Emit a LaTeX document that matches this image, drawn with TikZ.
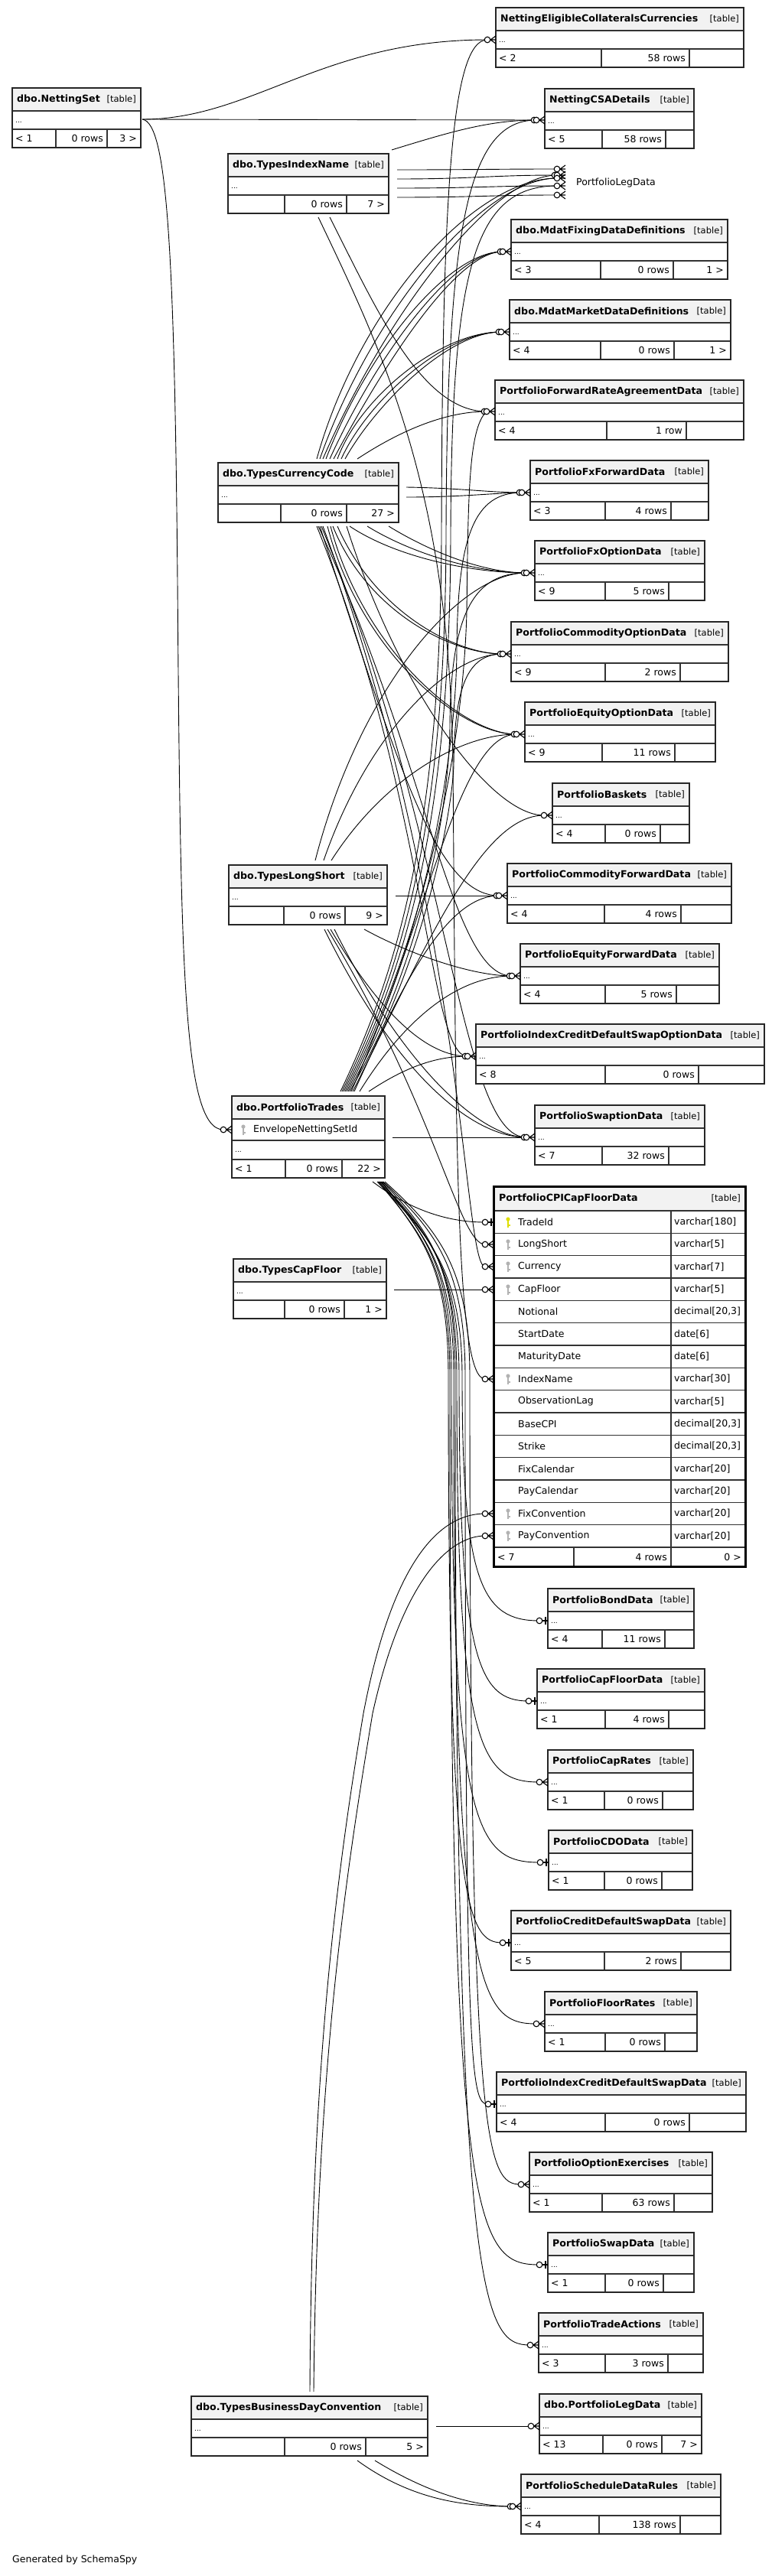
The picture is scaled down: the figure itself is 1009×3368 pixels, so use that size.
\documentclass[tikz,border=0pt]{standalone}
\usepackage{fontspec}
\setmainfont{DejaVu Sans}
\usetikzlibrary{calc}
\definecolor{keygray}{RGB}{178,178,178}
\definecolor{keyyel}{RGB}{222,222,0}
\tikzset{
  rel/.style={draw=black, line width=0.9pt},
  tbord/.style={draw=black!85, line width=1.6pt},
  tline/.style={draw=black!80, line width=1.3pt},
  hdr/.style={fill=black!5},
  ttl/.style={anchor=west, inner sep=0pt, font=\fontsize{12.6}{15}\selectfont\bfseries},
  tag/.style={anchor=east, inner sep=0pt, font=\fontsize{11.5}{15}\selectfont},
  cell/.style={inner sep=0pt, font=\fontsize{12.5}{15}\selectfont},
  dotx/.style={anchor=west, inner sep=0pt, font=\fontsize{9}{10}\selectfont},
  mk/.style={draw=black, line width=1.1pt},
  tblnode/.style={draw=none, fill=white, inner sep=0pt, outer sep=0pt, anchor=north west, minimum height=78pt},
}
\newcommand\tbl[9]{%
  \pgfmathsetmacro\tw{#4-#2}%
  \node[tblnode, minimum width=\tw pt] (#1) at (#2,#3) {};
  \fill[hdr] (#2,#3) rectangle (#4,#3+30);
  \draw[tline] (#2,#3+30) -- (#4,#3+30) (#2,#3+54) -- (#4,#3+54)
     (#5,#3+54) -- (#5,#3+78) (#6,#3+54) -- (#6,#3+78);
  \draw[tbord] (#2,#3) rectangle (#4,#3+78);
  \node[ttl] at (#2+6,#3+15) {#7};
  \node[tag] at (#4-6,#3+15) {[table]};
  \node[dotx] at (#2+4,#3+45) {...};
  \node[cell, anchor=west] at (#2+4,#3+66) {#8};
  \node[cell, anchor=east] at (#6-5,#3+66) {#9};
}
\newcommand\rtx[3]{\node[cell, anchor=east] at (#1-5,#2+66) {#3};}
\newcommand\crowm[2]{%
  \draw[mk] (#1-7,#2) -- (#1,#2-5) (#1-7,#2) -- (#1,#2) (#1-7,#2) -- (#1,#2+5);
  \draw[mk, fill=white] (#1-11,#2) circle (3.8pt);
}
\newcommand\crowmm[2]{%
  \draw[mk, fill=white] (#1-14,#2) circle (3.8pt);
  \crowm{#1}{#2}%
}
\newcommand\onem[2]{%
  \draw[mk] (#1-7,#2) -- (#1,#2) (#1-3,#2-5) -- (#1-3,#2+5);
  \draw[mk, fill=white] (#1-11,#2) circle (3.8pt);
}
\newcommand\keyic[3]{%
  \draw[#3, line width=1.6pt] (#1,#2-2) -- (#1,#2+7);
  \fill[#3] (#1,#2-4) circle (2.6pt);
  \draw[#3, line width=1.2pt] (#1,#2+4) -- (#1+2.5,#2+4);
}
\begin{document}
\begin{tikzpicture}[x=1pt, y=-1pt]
\useasboundingbox (0,0) rectangle (1009,3368);
\fill[white] (0,0) rectangle (1009,3368);

% ---------- connector end points ----------
\coordinate (nsS) at (186,156);
\coordinate (necE) at (637,52);
\coordinate (csaE) at (701,157);
\coordinate (pld1) at (728,221);
\coordinate (pld2) at (728,229);
\coordinate (pld3) at (728,233);
\coordinate (pld4) at (728,243);
\coordinate (pld5) at (728,255);
\coordinate (mfE) at (657,329);
\coordinate (mmE) at (655,434);
\coordinate (pfraE) at (636,538);
\coordinate (fxfE) at (682,644);
\coordinate (fxoE) at (688,749);
\coordinate (coE) at (657,855);
\coordinate (eoE) at (675,960);
\coordinate (bkE) at (711,1066);
\coordinate (cfE) at (652,1171);
\coordinate (efE) at (669,1276);
\coordinate (icoE) at (611,1381);
\coordinate (swE) at (688,1487);
\coordinate (tidE) at (634,1598);
\coordinate (lsE) at (634,1627);
\coordinate (curE) at (634,1656);
\coordinate (cflE) at (634,1686);
\coordinate (inE) at (634,1803);
\coordinate (fcE) at (634,1979);
\coordinate (pcE) at (634,2008);
\coordinate (bondE) at (705,2119);
\coordinate (capfE) at (691,2224);
\coordinate (caprE) at (705,2330);
\coordinate (cdoE) at (706,2435);
\coordinate (cdsE) at (657,2540);
\coordinate (floorE) at (701,2646);
\coordinate (icdsE) at (638,2751);
\coordinate (oeE) at (681,2856);
\coordinate (swapE) at (705,2961);
\coordinate (taE) at (693,3066);
\coordinate (dpldE) at (694,3172);
\coordinate (sdrE) at (670,3277);
\coordinate (ptE) at (292,1477);
\coordinate (tinC) at (512,196);
\coordinate (tinR1) at (519,222);
\coordinate (tinR2) at (519,234);
\coordinate (tinR3) at (519,246);
\coordinate (tinR4) at (519,258);
\coordinate (tinB1) at (416,284);
\coordinate (tinB2) at (431,284);
\coordinate (tccT) at (414,600);
\coordinate (tccR1) at (531,637);
\coordinate (tccR2) at (531,650);
\coordinate (tccB) at (414,688);
\coordinate (tlsT) at (412,1125);
\coordinate (tlsR) at (517,1171);
\coordinate (tlsB) at (424,1215);
\coordinate (ptT) at (440,1427);
\coordinate (ptR) at (513,1487);
\coordinate (ptB) at (487,1545);
\coordinate (tcfR) at (515,1686);
\coordinate (bdT1) at (405,3127);
\coordinate (bdT2) at (410,3127);
\coordinate (bdR) at (570,3172);
\coordinate (bdB1) at (467,3217);
\coordinate (bdB2) at (490,3217);

% ---------- connectors ----------
% NettingSet
\draw[rel] (nsS) .. controls (330,156) and (420,52) .. (necE);
\draw[rel] (nsS) -- (csaE);
\draw[rel] (nsS) .. controls (218,160) and (228,320) .. (232,760) .. controls (236,1250) and (238,1477) .. (ptE);
% TypesIndexName
\draw[rel] (tinR1) .. controls (620,222) and (640,221) .. (pld1);
\draw[rel] (tinR2) .. controls (620,234) and (640,229) .. (pld2);
\draw[rel] (tinR3) .. controls (620,246) and (640,243) .. (pld4);
\draw[rel] (tinR4) .. controls (620,258) and (640,255) .. (pld5);
\draw[rel] (tinC) .. controls (590,172) and (640,157) .. (csaE);
\draw[rel] (tinB2) .. controls (490,400) and (550,538) .. (pfraE);
\draw[rel] (tinB1) .. controls (500,460) and (588,640) .. (592,1000) .. controls (596,1500) and (596,1803) .. (inE);
% TypesCurrencyCode top
\draw[rel] (tccT) .. controls (470,400) and (620,233) .. (pld3);
\draw[rel] ([xshift=4pt]tccT) .. controls (485,410) and (630,233) .. (pld3);
\draw[rel] ([xshift=8pt]tccT) .. controls (500,420) and (640,229) .. (pld2);
\draw[rel] ([xshift=12pt]tccT) .. controls (480,460) and (585,329) .. (mfE);
\draw[rel] ([xshift=17pt]tccT) .. controls (490,470) and (590,329) .. (mfE);
\draw[rel] ([xshift=22pt]tccT) .. controls (500,480) and (595,329) .. (mfE);
\draw[rel] ([xshift=27pt]tccT) .. controls (470,520) and (575,434) .. (mmE);
\draw[rel] ([xshift=32pt]tccT) .. controls (480,525) and (580,434) .. (mmE);
\draw[rel] ([xshift=37pt]tccT) .. controls (490,530) and (585,434) .. (mmE);
\draw[rel] ([xshift=53pt]tccT) .. controls (520,565) and (580,538) .. (pfraE);
% TypesCurrencyCode right
\draw[rel] (tccR1) .. controls (600,638) and (640,644) .. (fxfE);
\draw[rel] (tccR2) .. controls (600,650) and (640,645) .. (fxfE);
% TypesCurrencyCode bottom
\draw[rel] ([xshift=43pt]tccB) .. controls (520,730) and (620,749) .. (fxoE);
\draw[rel] ([xshift=66pt]tccB) .. controls (540,725) and (625,749) .. (fxoE);
\draw[rel] ([xshift=94pt]tccB) .. controls (560,720) and (630,749) .. (fxoE);
\draw[rel] ([xshift=21pt]tccB) .. controls (480,800) and (590,855) .. (coE);
\draw[rel] ([xshift=27pt]tccB) .. controls (490,800) and (595,855) .. (coE);
\draw[rel] ([xshift=14pt]tccB) .. controls (470,850) and (600,960) .. (eoE);
\draw[rel] ([xshift=18pt]tccB) .. controls (475,850) and (605,960) .. (eoE);
\draw[rel] ([xshift=39pt]tccB) .. controls (520,900) and (640,1066) .. (bkE);
\draw[rel] ([xshift=4pt]tccB) .. controls (520,1000) and (570,1171) .. (cfE);
\draw[rel] ([xshift=2pt]tccB) .. controls (560,1000) and (590,1276) .. (efE);
\draw[rel] (tccB) .. controls (560,1050) and (560,1381) .. (icoE);
\draw[rel] ([xshift=6pt]tccB) .. controls (590,1100) and (600,1487) .. (swE);
\draw[rel] ([xshift=8pt]tccB) .. controls (610,1200) and (605,1656) .. (curE);
% PortfolioTrades top
\draw[rel] ([xshift=5pt]ptT) .. controls (530,1250) and (576,1050) .. (577,700) .. controls (578,250) and (590,52) .. (necE);
\draw[rel] ([xshift=7pt]ptT) .. controls (535,1250) and (582,1050) .. (583,700) .. controls (584,300) and (610,157) .. (csaE);
\draw[rel] ([xshift=9pt]ptT) .. controls (540,1250) and (588,1050) .. (589,700) .. controls (590,350) and (620,243) .. (pld4);
\draw[rel] ([xshift=11pt]ptT) .. controls (545,1250) and (605,1000) .. (610,800) .. controls (612,650) and (612,560) .. (pfraE);
\draw[rel] ([xshift=13pt]ptT) .. controls (550,1250) and (596,1000) .. (597,850) .. controls (598,700) and (620,644) .. (fxfE);
\draw[rel] ([xshift=15pt]ptT) .. controls (555,1250) and (587,1050) .. (588,950) .. controls (589,800) and (620,749) .. (fxoE);
\draw[rel] ([xshift=17pt]ptT) .. controls (560,1250) and (592,1050) .. (593,1000) .. controls (594,900) and (610,855) .. (coE);
\draw[rel] ([xshift=19pt]ptT) .. controls (560,1200) and (600,960) .. (eoE);
\draw[rel] ([xshift=21pt]ptT) .. controls (560,1230) and (630,1066) .. (bkE);
\draw[rel] ([xshift=23pt]ptT) .. controls (520,1300) and (580,1171) .. (cfE);
\draw[rel] ([xshift=30pt]ptT) .. controls (530,1330) and (600,1276) .. (efE);
\draw[rel] ([xshift=42pt]ptT) .. controls (530,1395) and (570,1381) .. (icoE);
% PortfolioTrades right / bottom
\draw[rel] (ptR) -- (swE);
\draw[rel] (ptB) .. controls (540,1585) and (590,1598) .. (tidE);
\draw[rel] ([xshift=6pt]ptB) .. controls (560,1615) and (604,1660) .. (604,1800) .. controls (604,2070) and (630,2119) .. (bondE);
\draw[rel] ([xshift=8pt]ptB) .. controls (562,1615) and (600,1660) .. (600,1800) .. controls (600,2170) and (625,2224) .. (capfE);
\draw[rel] ([xshift=10pt]ptB) .. controls (564,1615) and (597,1660) .. (597,1800) .. controls (597,2280) and (625,2330) .. (caprE);
\draw[rel] ([xshift=12pt]ptB) .. controls (560,1620) and (590,1660) .. (590,1800) .. controls (590,2390) and (620,2435) .. (cdoE);
\draw[rel] ([xshift=9pt]ptB) .. controls (555,1620) and (586,1660) .. (586,1800) .. controls (586,2490) and (610,2540) .. (cdsE);
\draw[rel] ([xshift=11pt]ptB) .. controls (560,1620) and (593,1660) .. (593,1800) .. controls (593,2600) and (625,2646) .. (floorE);
\draw[rel] ([xshift=14pt]ptB) .. controls (570,1610) and (608,1660) .. (608,1800) .. controls (608,2710) and (615,2751) .. (icdsE);
\draw[rel] ([xshift=16pt]ptB) .. controls (575,1610) and (614,1660) .. (614,1800) .. controls (614,2810) and (635,2856) .. (oeE);
\draw[rel] ([xshift=7pt]ptB) .. controls (556,1618) and (588,1660) .. (588,1800) .. controls (588,2910) and (620,2961) .. (swapE);
\draw[rel] ([xshift=13pt]ptB) .. controls (566,1614) and (595,1660) .. (595,1800) .. controls (595,3010) and (630,3066) .. (taE);
% TypesLongShort
\draw[rel] (tlsT) .. controls (470,900) and (600,749) .. (fxoE);
\draw[rel] ([xshift=11pt]tlsT) .. controls (480,960) and (585,855) .. (coE);
\draw[rel] ([xshift=21pt]tlsT) .. controls (500,1020) and (600,960) .. (eoE);
\draw[rel] (tlsR) -- (cfE);
\draw[rel] ([xshift=52pt]tlsB) .. controls (540,1250) and (620,1276) .. (efE);
\draw[rel] ([xshift=8pt]tlsB) .. controls (500,1330) and (560,1381) .. (icoE);
\draw[rel] (tlsB) .. controls (520,1410) and (620,1487) .. (swE);
\draw[rel] ([xshift=13pt]tlsB) .. controls (530,1400) and (630,1487) .. (swE);
\draw[rel] ([xshift=4pt]tlsB) .. controls (570,1450) and (600,1627) .. (lsE);
% TypesCapFloor
\draw[rel] (tcfR) -- (cflE);
% TypesBusinessDayConvention
\draw[rel] (bdT1) .. controls (407,2700) and (440,2450) .. (475,2240) .. controls (515,2030) and (580,1979) .. (fcE);
\draw[rel] (bdT2) .. controls (414,2700) and (452,2450) .. (487,2240) .. controls (527,2060) and (590,2008) .. (pcE);
\draw[rel] (bdR) -- (dpldE);
\draw[rel] (bdB1) .. controls (540,3270) and (610,3277) .. (sdrE);
\draw[rel] (bdB2) .. controls (560,3260) and (620,3277) .. (sdrE);

% ---------- tables ----------
\tbl{nec}{648}{10}{972}{786}{901}{NettingEligibleCollateralsCurrencies}{< 2}{58 rows}
\tbl{ns}{16}{115}{184}{73}{140}{dbo.NettingSet}{< 1}{0 rows}\rtx{184}{115}{3 >}
\tbl{csa}{712}{116}{907}{787}{870}{NettingCSADetails}{< 5}{58 rows}
\tbl{tin}{298}{201}{508}{372}{453}{dbo.TypesIndexName}{}{0 rows}\rtx{508}{201}{7 >}
\node[cell, anchor=west] (pld) at (753,239) {PortfolioLegData};
\tbl{mf}{668}{287}{951}{785}{880}{dbo.MdatFixingDataDefinitions}{< 3}{0 rows}\rtx{951}{287}{1 >}
\tbl{mm}{666}{392}{955}{785}{881}{dbo.MdatMarketDataDefinitions}{< 4}{0 rows}\rtx{955}{392}{1 >}
\tbl{pfra}{647}{497}{972}{793}{897}{PortfolioForwardRateAgreementData}{< 4}{1 row}
\tbl{tcc}{285}{605}{521}{367}{453}{dbo.TypesCurrencyCode}{}{0 rows}\rtx{521}{605}{27 >}
\tbl{fxf}{693}{602}{926}{791}{877}{PortfolioFxForwardData}{< 3}{4 rows}
\tbl{fxo}{699}{707}{921}{791}{874}{PortfolioFxOptionData}{< 9}{5 rows}
\tbl{co}{668}{813}{952}{791}{889}{PortfolioCommodityOptionData}{< 9}{2 rows}
\tbl{eo}{686}{918}{935}{787}{882}{PortfolioEquityOptionData}{< 9}{11 rows}
\tbl{bk}{722}{1024}{901}{791}{863}{PortfolioBaskets}{< 4}{0 rows}
\tbl{tls}{299}{1131}{506}{371}{451}{dbo.TypesLongShort}{}{0 rows}\rtx{506}{1131}{9 >}
\tbl{cf}{663}{1129}{956}{790}{890}{PortfolioCommodityForwardData}{< 4}{4 rows}
\tbl{ef}{680}{1234}{940}{791}{884}{PortfolioEquityForwardData}{< 4}{5 rows}
\tbl{ico}{622}{1339}{999}{791}{913}{PortfolioIndexCreditDefaultSwapOptionData}{< 8}{0 rows}
\tbl{sw}{699}{1445}{921}{787}{874}{PortfolioSwaptionData}{< 7}{32 rows}
\tbl{tcf}{305}{1646}{505}{372}{450}{dbo.TypesCapFloor}{}{0 rows}\rtx{505}{1646}{1 >}
\tbl{bond}{716}{2077}{907}{787}{869}{PortfolioBondData}{< 4}{11 rows}
\tbl{capf}{702}{2182}{921}{791}{874}{PortfolioCapFloorData}{< 1}{4 rows}
\tbl{capr}{716}{2288}{906}{790}{866}{PortfolioCapRates}{< 1}{0 rows}
\tbl{cdo}{717}{2393}{905}{790}{865}{PortfolioCDOData}{< 1}{0 rows}
\tbl{cds}{668}{2498}{955}{790}{890}{PortfolioCreditDefaultSwapData}{< 5}{2 rows}
\tbl{floor}{712}{2604}{911}{791}{869}{PortfolioFloorRates}{< 1}{0 rows}
\tbl{icds}{649}{2709}{975}{791}{901}{PortfolioIndexCreditDefaultSwapData}{< 4}{0 rows}
\tbl{oe}{692}{2814}{931}{787}{881}{PortfolioOptionExercises}{< 1}{63 rows}
\tbl{swap}{716}{2919}{907}{791}{867}{PortfolioSwapData}{< 1}{0 rows}
\tbl{ta}{704}{3024}{919}{791}{873}{PortfolioTradeActions}{< 3}{3 rows}
\tbl{tbdc}{250}{3133}{559}{372}{478}{dbo.TypesBusinessDayConvention}{}{0 rows}\rtx{559}{3133}{5 >}
\tbl{dpld}{705}{3130}{917}{788}{865}{dbo.PortfolioLegData}{< 13}{0 rows}\rtx{917}{3130}{7 >}
\tbl{sdr}{681}{3235}{942}{783}{889}{PortfolioScheduleDataRules}{< 4}{138 rows}

% dbo.PortfolioTrades
\node[tblnode, minimum width=200pt, minimum height=107pt] (pt) at (303,1433) {};
\fill[hdr] (303,1433) rectangle (503,1463);
\draw[tline] (303,1463) -- (503,1463) (303,1491) -- (503,1491) (303,1516) -- (503,1516)
  (373,1516) -- (373,1540) (447,1516) -- (447,1540);
\draw[tbord] (303,1433) rectangle (503,1540);
\node[ttl] at (309,1448) {dbo.PortfolioTrades};
\node[tag] at (497,1448) {[table]};
\keyic{318}{1477}{keygray}
\node[cell, anchor=west] at (331,1477) {EnvelopeNettingSetId};
\node[dotx] at (307,1506) {...};
\node[cell, anchor=west] at (307,1528) {< 1};
\node[cell, anchor=east] at (442,1528) {0 rows};
\node[cell, anchor=east] at (498,1528) {22 >};

% PortfolioCPICapFloorData
\node[tblnode, minimum width=329pt, minimum height=497pt] (cpi) at (645,1551) {};
\fill[hdr] (645,1551) rectangle (974,1583);
\foreach \i in {0,...,14} { \draw[tline] (645,1583+29.333*\i) -- (974,1583+29.333*\i); }
\draw[tline] (645,2023) -- (974,2023);
\draw[tline] (877,1583) -- (877,2023) (750,2023) -- (750,2048) (877,2023) -- (877,2048);
\draw[line width=3pt, draw=black] (645,1551) rectangle (974,2048);
\node[ttl] at (652,1567) {PortfolioCPICapFloorData};
\node[tag] at (968,1567) {[table]};
\foreach \nm/\ty [count=\i from 0] in {TradeId/{varchar[180]}, LongShort/{varchar[5]}, Currency/{varchar[7]}, CapFloor/{varchar[5]}, Notional/{decimal[20,3]}, StartDate/{date[6]}, MaturityDate/{date[6]}, IndexName/{varchar[30]}, ObservationLag/{varchar[5]}, BaseCPI/{decimal[20,3]}, Strike/{decimal[20,3]}, FixCalendar/{varchar[20]}, PayCalendar/{varchar[20]}, FixConvention/{varchar[20]}, PayConvention/{varchar[20]}} {
  \node[cell, anchor=west] at (677,1597.67+29.333*\i) {\nm};
  \node[cell, anchor=west] at (881,1597.67+29.333*\i) {\ty};
}
\keyic{664}{1598}{keyyel}
\keyic{664}{1627}{keygray}
\keyic{664}{1656}{keygray}
\keyic{664}{1686}{keygray}
\keyic{664}{1803}{keygray}
\keyic{664}{1979}{keygray}
\keyic{664}{2008}{keygray}
\node[cell, anchor=west] at (650,2036) {< 7};
\node[cell, anchor=east] at (872,2036) {4 rows};
\node[cell, anchor=east] at (969,2036) {0 >};

\node[cell, anchor=west] (gen) at (16,3347) {Generated by SchemaSpy};

% ---------- markers ----------
\crowm{648}{52}
\crowmm{712}{157}
\crowm{739}{221}
\crowmm{739}{229}
\crowm{739}{233}
\crowm{739}{243}
\crowm{739}{255}
\crowmm{668}{329}
\crowmm{666}{434}
\crowmm{647}{538}
\crowmm{693}{644}
\crowmm{699}{749}
\crowmm{668}{855}
\crowmm{686}{960}
\crowm{722}{1066}
\crowmm{663}{1171}
\crowmm{680}{1276}
\crowmm{622}{1381}
\crowmm{699}{1487}
\onem{645}{1598}
\crowm{645}{1627}
\crowm{645}{1656}
\crowm{645}{1686}
\crowm{645}{1803}
\crowm{645}{1979}
\crowm{645}{2008}
\onem{716}{2119}
\onem{702}{2224}
\crowm{716}{2330}
\onem{717}{2435}
\onem{668}{2540}
\crowm{712}{2646}
\onem{649}{2751}
\crowm{692}{2856}
\onem{716}{2961}
\crowm{704}{3066}
\crowm{705}{3172}
\crowmm{681}{3277}
\crowm{303}{1477}
\end{tikzpicture}
\end{document}
